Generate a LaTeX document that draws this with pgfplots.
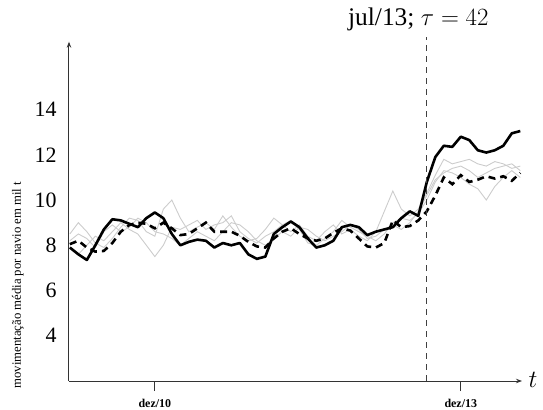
\documentclass[border=0pt]{standalone}
\usepackage{pgfplots}
\usepackage{pgfplotstable}
\pgfplotsset{compat=1.18}
\usetikzlibrary{arrows.meta,calc}
\usepackage{fontspec}
\setmainfont{Liberation Serif}

\pgfplotstableread{
i solid dashed g1 g2 g3
0 7.9 8.05 8.5 7.9 8.2
1 7.6 8.2 9.0 7.6 8.5
2 7.35 7.9 8.6 8.0 8.3
3 8.0 7.72 8.1 8.4 7.9
4 8.7 7.75 7.9 8.2 8.6
5 9.15 8.1 8.3 8.6 8.9
6 9.1 8.6 8.8 9.0 8.6
7 8.95 8.9 9.2 8.7 8.8
8 8.8 9.0 9.1 8.5 9.2
9 9.2 8.95 8.6 8.0 9.0
10 9.45 8.75 8.4 7.5 8.6
11 9.2 9.0 9.6 8.0 8.5
12 8.5 8.75 10.0 8.8 8.3
13 8.0 8.45 9.2 8.7 8.0
14 8.15 8.5 8.6 8.9 8.3
15 8.25 8.75 8.8 9.1 8.6
16 8.2 9.0 9.0 8.7 8.4
17 7.9 8.6 8.7 8.9 8.2
18 8.1 8.6 9.3 9.0 8.6
19 8.0 8.6 8.8 9.3 9.0
20 8.1 8.42 8.4 8.6 8.9
21 7.6 8.15 8.2 8.3 8.6
22 7.4 7.95 8.3 8.1 8.2
23 7.5 7.9 8.7 8.4 8.0
24 8.5 8.3 9.2 8.6 8.3
25 8.8 8.6 8.9 8.9 8.6
26 9.05 8.75 8.6 9.1 8.4
27 8.8 8.5 8.9 8.7 8.8
28 8.3 8.3 8.4 8.1 8.7
29 7.9 8.2 8.2 8.0 8.4
30 8.0 8.3 8.6 8.3 8.2
31 8.2 8.55 8.9 8.6 8.4
32 8.8 8.75 8.5 9.1 8.6
33 8.9 8.65 8.7 8.8 8.9
34 8.8 8.3 8.4 8.6 8.7
35 8.45 7.95 8.2 8.4 8.3
36 8.6 7.9 8.6 8.2 8.4
37 8.7 8.1 9.5 8.5 8.7
38 8.8 9.1 10.4 9.0 8.9
39 9.2 8.8 9.6 9.2 8.7
40 9.5 8.85 9.3 9.1 9.0
41 9.3 9.1 9.6 9.4 9.5
42 10.8 9.5 10.3 10.0 10.2
43 11.9 10.2 11.1 10.8 10.9
44 12.4 11.0 11.8 11.3 11.2
45 12.35 10.7 11.6 11.2 11.4
46 12.8 11.1 11.7 11.0 11.5
47 12.65 10.8 11.8 10.7 11.3
48 12.2 10.9 11.6 10.5 11.0
49 12.1 11.05 11.5 10.0 11.2
50 12.2 10.95 11.7 10.6 11.4
51 12.4 11.05 11.6 11.0 11.5
52 12.95 10.85 11.4 11.3 11.6
53 13.05 11.2 11.5 11.0 11.3
}\datatable

\begin{document}
\begin{tikzpicture}
\begin{axis}[
  at={(0,0)}, anchor=south west,
  scale only axis, width=453bp, height=339.3bp,
  xmin=-0.1, xmax=53.2, ymin=2, ymax=17,
  axis x line=bottom, axis y line=left,
  axis line style={line width=1bp, black!80, -{Stealth[length=6bp,width=4.5bp]}},
  xtick={10,46}, xticklabels={dez/10, dez/13},
  xticklabel style={font=\fontsize{12}{14}\selectfont\bfseries, yshift=-5bp},
  x tick style={line width=1bp, black!80},
  tick align=outside, major tick length=10bp,
  ytick={4,6,8,10,12,14},
  y tick style={draw=none},
  yticklabel style={font=\fontsize{22}{24}\selectfont, xshift=1bp},
  /pgf/number format/assume math mode=true,
  clip=false,
]
\addplot[black!20, line width=0.9bp] table[x=i, y=g1] {\datatable};
\addplot[black!20, line width=0.9bp] table[x=i, y=g2] {\datatable};
\addplot[black!20, line width=0.9bp] table[x=i, y=g3] {\datatable};
\addplot[black, line width=2.6bp, dash pattern=on 7bp off 5bp] table[x=i, y=dashed] {\datatable};
\addplot[black, line width=2.6bp, line join=round] table[x=i, y=solid] {\datatable};
\addplot[black!75, line width=1bp, dash pattern=on 6bp off 5bp] coordinates {(42,2) (42,17.2)};
\node[font=\fontsize{25.5}{27}\selectfont] at (axis cs:41.0,18.0) {jul/13; $\tau=42$};
\node[anchor=west, font=\fontsize{24}{26}\selectfont] at ($(axis cs:53.2,2)+(3bp,1bp)$) {$t$};
\node[rotate=90, font=\fontsize{12.8}{14}\selectfont] at ($(rel axis cs:0,0.4156)+(-52bp,0)$) {movimentação média por navio em mil t};
\end{axis}
\pgfresetboundingbox
\path[use as bounding box] (-69bp,-29bp) rectangle (474bp,381bp);
\end{tikzpicture}
\end{document}
